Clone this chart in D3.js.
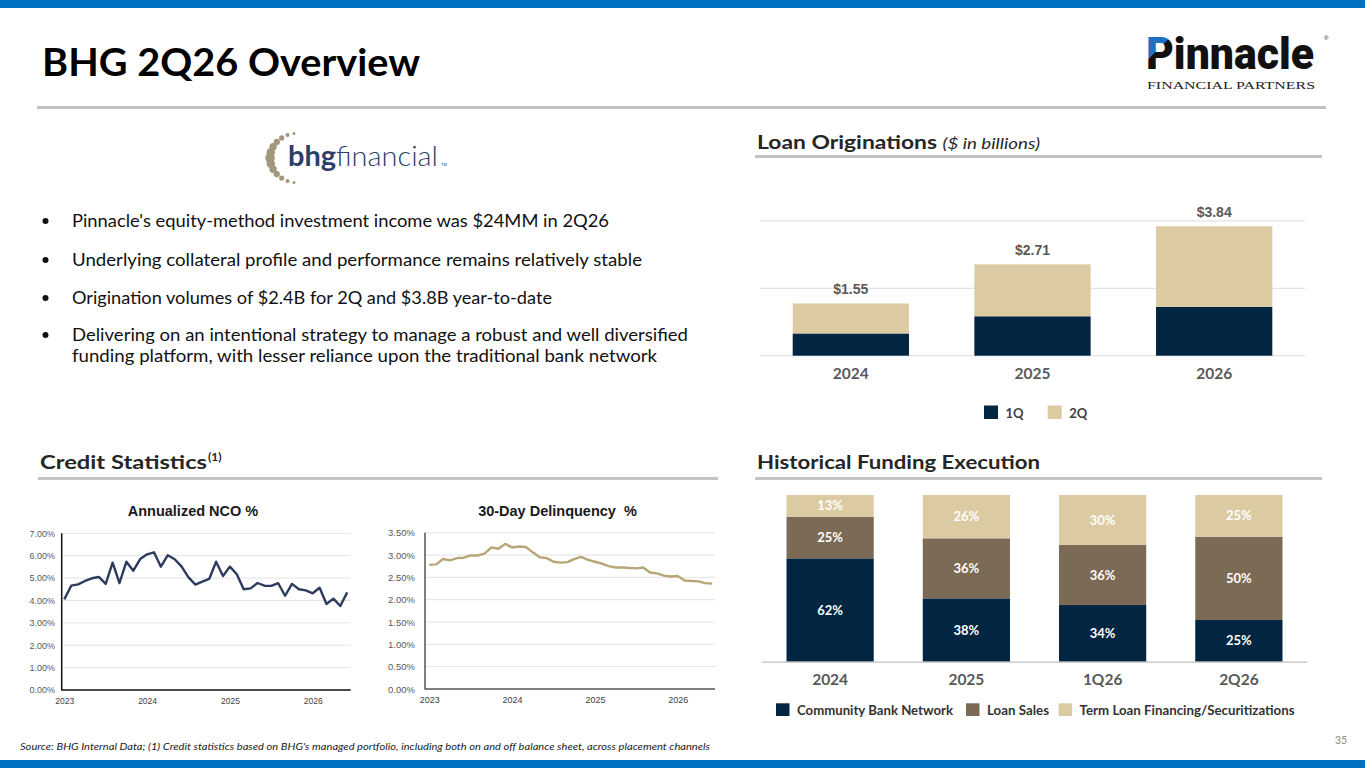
<!DOCTYPE html>
<html><head><meta charset="utf-8">
<script src="https://cdn.jsdelivr.net/npm/d3@7"></script>
<style>body{margin:0;background:#fff}svg{display:block}</style>
</head><body>
<svg id="c" width="1365" height="768"></svg>
<script>
// ---------------- DATA ----------------
const yearTicks = ["2023", "2024", "2025", "2026"];
const ncoValues = [4.05,4.66,4.72,4.87,4.99,5.05,4.74,5.69,4.78,5.73,5.33,5.85,
  6.06,6.15,5.51,6.02,5.84,5.51,5.03,4.71,4.84,4.96,5.73,5.09,
  5.51,5.17,4.50,4.54,4.78,4.66,4.65,4.77,4.21,4.74,4.50,4.45,
  4.32,4.57,3.84,4.08,3.75,4.36];
const dqValues = [2.78,2.79,2.91,2.88,2.93,2.94,2.99,2.99,3.03,3.17,3.14,3.25,
  3.17,3.19,3.18,3.06,2.95,2.93,2.85,2.83,2.84,2.91,2.96,2.89,
  2.85,2.81,2.75,2.72,2.72,2.71,2.70,2.72,2.61,2.59,2.54,2.52,
  2.53,2.43,2.42,2.41,2.37,2.36];
const ncoTicks = [0,1,2,3,4,5,6,7];
const dqTicks = [0,0.5,1,1.5,2,2.5,3,3.5];

const origYears = ["2024", "2025", "2026"];
const orig1Q = [0.66, 1.17, 1.45];
const orig2Q = [0.89, 1.54, 2.39];
const origLegend = ["1Q", "2Q"];

const fundCats = ["2024", "2025", "1Q26", "2Q26"];
const fundCommunity = [62, 38, 34, 25];
const fundLoanSales = [25, 36, 36, 50];
const fundTermLoan = [13, 26, 30, 25];
const fundLegend = ["Community Bank Network", "Loan Sales", "Term Loan Financing/Securitizations"];

const bullets = [
  ["Pinnacle's equity-method investment income was $24MM in 2Q26"],
  ["Underlying collateral profile and performance remains relatively stable"],
  ["Origination volumes of $2.4B for 2Q and $3.8B year-to-date"],
  ["Delivering on an intentional strategy to manage a robust and well diversified",
   "funding platform, with lesser reliance upon the traditional bank network"]
];

// ---------------- STYLE ----------------
const NAVY = "#022641", BROWN = "#7b6a56", TAN = "#dccba2";
const SANS = "Lato, 'Open Sans', sans-serif";
const ARIAL = "'Liberation Sans', Arial, sans-serif";
const svg = d3.select("#c");

function fit(sel, w) {
  sel.each(function () {
    const L = this.getComputedTextLength();
    if (Math.abs(L - w) > 1) d3.select(this).attr("textLength", w).attr("lengthAdjust", "spacingAndGlyphs");
  });
  return sel;
}

// page chrome
svg.append("rect").attr("x",0).attr("y",0).attr("width",1365).attr("height",8).attr("fill","#0070c0");
svg.append("rect").attr("x",0).attr("y",760).attr("width",1365).attr("height",8).attr("fill","#0070c0");
svg.append("text").attr("x",42).attr("y",76).attr("font-family",SANS).attr("font-weight",700)
  .attr("font-size",38).attr("fill","#000").text("BHG 2Q26 Overview").call(fit,378);
svg.append("rect").attr("x",37).attr("y",106).attr("width",1289).attr("height",3).attr("fill","#c3c3c3");

// Pinnacle logo
const defs = svg.append("defs");
const grad = defs.append("linearGradient").attr("id","pgrad").attr("gradientUnits","userSpaceOnUse")
  .attr("x1",1146).attr("y1",30).attr("x2",1180).attr("y2",64);
grad.append("stop").attr("offset",0.47).attr("stop-color","#1a72c0");
grad.append("stop").attr("offset",0.47).attr("stop-color","#111");
svg.append("text").attr("x",1146).attr("y",68.5).attr("font-family","Roboto, Lato, sans-serif")
  .attr("font-weight",900).attr("font-size",45).attr("fill","url(#pgrad)").text("Pinnacle").call(fit,168);
svg.append("text").attr("x",1324).attr("y",40).attr("font-family",ARIAL).attr("font-size",6).attr("fill","#111").text("®");
svg.append("text").attr("x",1147).attr("y",88.5).attr("font-family","'Liberation Serif', 'DejaVu Serif', serif")
  .attr("font-size",9.5).attr("fill","#222").text("FINANCIAL PARTNERS").call(fit,168);

// bhg financial logo
const dotG = svg.append("g");
for (let k = 0; k <= 12; k++) {
  const a = (100 + k * 160 / 12) * Math.PI / 180;
  const r = 4.8 - Math.abs(k - 6) * 0.55;
  dotG.append("circle").attr("cx", 299 + 29 * Math.cos(a)).attr("cy", 158 - 25 * Math.sin(a))
    .attr("r", Math.max(r, 1.2)).attr("fill", "#a3977b");
}
svg.append("text").attr("x",288).attr("y",166).attr("font-family",SANS).attr("font-size",28)
  .attr("fill","#2b3f68").call(t=>{
    t.append("tspan").attr("font-weight",700).text("bhg");
    t.append("tspan").attr("font-weight",300).text("financial");
  }).call(fit,150);
svg.append("text").attr("x",441).attr("y",166).attr("font-family",ARIAL).attr("font-size",4).attr("fill","#2b3f68").text("TM");

// bullets
const bulletY = [227, 266, 304, 341];
const lineW = [[537],[570],[480],[616,585]];
bullets.forEach((lines, i) => {
  svg.append("circle").attr("cx",45.5).attr("cy",bulletY[i]-6).attr("r",3).attr("fill","#111");
  lines.forEach((ln, j) => {
    svg.append("text").attr("x",72).attr("y",bulletY[i] + j*21).attr("font-family",SANS)
      .attr("font-size",17.5).attr("fill","#111").text(ln).call(fit, lineW[i][j]);
  });
});

// section headers
function header(x, y, w, lineX2, parts, lineY){
  const t = svg.append("text").attr("x",x).attr("y",y).attr("font-family",SANS).attr("font-size",19.5).attr("fill","#262626");
  parts(t);
  t.call(fit, w);
  svg.append("rect").attr("x",x-2).attr("y",lineY).attr("width",lineX2-x+2).attr("height",3).attr("fill","#c3c3c3");
}
header(757,149,283,1322,t=>{
  t.append("tspan").attr("font-weight",700).text("Loan Originations ");
  t.append("tspan").attr("font-style","italic").attr("font-size",16).text("($ in billions)");
},155);
header(40,469,167,718,t=>{ t.append("tspan").attr("font-weight",700).text("Credit Statistics"); },477);
svg.append("text").attr("x",208).attr("y",461).attr("font-family",SANS).attr("font-weight",700)
  .attr("font-size",12).attr("fill","#262626").text("(1)");
header(757,469,283,1322,t=>{ t.append("tspan").attr("font-weight",700).text("Historical Funding Execution"); },477);

// ---------------- LINE CHARTS ----------------
function lineChart(o){
  const g = svg.append("g");
  const x = d3.scaleLinear().domain([0, o.values.length-1]).range(o.xr);
  const y = d3.scaleLinear().domain([0, o.ymax]).range(o.yr);
  g.append("g").selectAll("line").data(o.ticks.slice(1)).join("line")
    .attr("x1",o.axisX).attr("x2",o.axisX2).attr("y1",d=>y(d)).attr("y2",d=>y(d))
    .attr("stroke","#e3e3e3").attr("stroke-width",1);
  const ya = g.append("g").attr("transform",`translate(${o.labelX},0)`)
    .call(d3.axisLeft(y).tickValues(o.ticks).tickSize(0).tickPadding(0).tickFormat(d=>d3.format(".2%")(d/100)));
  ya.select(".domain").remove();
  ya.selectAll("text").attr("font-family",ARIAL).attr("font-size",o.fs).attr("fill","#595959");
  const xa = g.append("g").attr("transform",`translate(0,${o.yr[0]+8})`)
    .call(d3.axisBottom(x).tickValues([0,12,24,36]).tickSize(0).tickPadding(0).tickFormat((d,i)=>yearTicks[i]));
  xa.select(".domain").remove();
  xa.selectAll("text").attr("font-family",ARIAL).attr("font-size",o.fs-0.5).attr("fill","#404040");
  g.append("line").attr("x1",o.axisX).attr("x2",o.axisX).attr("y1",o.yr[1]).attr("y2",o.yr[0]+0.5)
    .attr("stroke",o.axisC).attr("stroke-width",1.5);
  g.append("line").attr("x1",o.axisX).attr("x2",o.axisX2).attr("y1",o.yr[0]).attr("y2",o.yr[0])
    .attr("stroke",o.axisC).attr("stroke-width",1.5);
  g.append("path").datum(o.values).attr("fill","none").attr("stroke",o.color).attr("stroke-width",2.4)
    .attr("stroke-linejoin","round").attr("d", d3.line().x((d,i)=>x(i)).y(d=>y(d)));
  g.append("text").attr("x",o.titleX).attr("y",516).attr("text-anchor","middle").attr("font-family",ARIAL)
    .attr("font-weight",700).attr("font-size",14.5).attr("fill","#1a1a1a").style("white-space","pre").text(o.title);
}
lineChart({values:ncoValues, ticks:ncoTicks, ymax:7, xr:[64.3,347.2], yr:[690,533.3], axisX:61.7, axisX2:350.7,
  labelX:55, fs:9, color:"#2d3c5e", axisC:"#111", title:"Annualized NCO %", titleX:193});
lineChart({values:dqValues, ticks:dqTicks, ymax:3.5, xr:[429.3,712.2], yr:[689,532.7], axisX:425, axisX2:715,
  labelX:415, fs:9.5, color:"#b8a676", axisC:"#555", title:"30-Day Delinquency  %", titleX:557.5});

// ---------------- LOAN ORIGINATIONS ----------------
{
  const table = origYears.map((yr,i)=>({year:yr, q1:orig1Q[i], q2:orig2Q[i]}));
  const x = d3.scaleBand().domain(origYears).range([760,1305]).paddingInner(0.36).paddingOuter(0.18);
  const y = d3.scaleLinear().domain([0,4]).range([355.7,220.9]);
  const g = svg.append("g");
  g.selectAll("line.grid").data([0,2,4]).join("line").attr("x1",760).attr("x2",1305)
    .attr("y1",d=>y(d)).attr("y2",d=>y(d)).attr("stroke","#e3e3e3").attr("stroke-width",1.2);
  const stack = d3.stack().keys(["q1","q2"])(table);
  const cols = [NAVY, TAN];
  stack.forEach((s,si)=>{
    g.selectAll(null).data(s).join("rect").attr("x",d=>x(d.data.year)).attr("width",x.bandwidth())
      .attr("y",d=>y(d[1])).attr("height",d=>y(d[0])-y(d[1])).attr("fill",cols[si]);
  });
  g.selectAll("text.tot").data(table).join("text").attr("x",d=>x(d.year)+x.bandwidth()/2)
    .attr("y",d=>y(d.q1+d.q2)-9.5).attr("text-anchor","middle").attr("font-family",ARIAL).attr("font-weight",700)
    .attr("font-size",14).attr("fill","#595959").text(d=>"$"+(d.q1+d.q2).toFixed(2));
  const xa = g.append("g").attr("transform","translate(0,368)").call(d3.axisBottom(x).tickSize(0).tickPadding(0));
  xa.select(".domain").remove();
  xa.selectAll("text").attr("font-family",SANS).attr("font-weight",700).attr("font-size",15.5).attr("fill","#595959");
  const lx = [984, 1047.7];
  origLegend.forEach((k,i)=>{
    g.append("rect").attr("x",lx[i]).attr("y",405.5).attr("width",14).attr("height",13.5).attr("fill",cols[i]);
    g.append("text").attr("x",lx[i]+21.5).attr("y",417.5).attr("font-family",SANS).attr("font-weight",700)
      .attr("font-size",13).attr("fill","#404040").text(k);
  });
}

// ---------------- FUNDING ----------------
{
  const table = fundCats.map((c,i)=>({cat:c, community:fundCommunity[i], loanSales:fundLoanSales[i], termLoan:fundTermLoan[i]}));
  const x = d3.scaleBand().domain(fundCats).range([762,1307]).paddingInner(0.36).paddingOuter(0.18);
  const y = d3.scaleLinear().domain([0,100]).range([661.7,495]);
  const g = svg.append("g");
  const keys = ["community","loanSales","termLoan"];
  const cols = [NAVY, BROWN, TAN];
  const stack = d3.stack().keys(keys)(table);
  stack.forEach((s,si)=>{
    g.selectAll(null).data(s).join("rect").attr("x",d=>x(d.data.cat)).attr("width",x.bandwidth())
      .attr("y",d=>y(d[1])).attr("height",d=>y(d[0])-y(d[1])).attr("fill",cols[si]);
    g.selectAll(null).data(s).join("text").attr("x",d=>x(d.data.cat)+x.bandwidth()/2)
      .attr("y",d=>(y(d[0])+y(d[1]))/2+4.5).attr("text-anchor","middle").attr("font-family",SANS)
      .attr("font-weight",700).attr("font-size",13).attr("fill","#fff").text(d=>(d[1]-d[0])+"%");
  });
  g.append("line").attr("x1",762).attr("x2",1307).attr("y1",662.2).attr("y2",662.2).attr("stroke","#bfbfbf").attr("stroke-width",1.2);
  const xa = g.append("g").attr("transform","translate(0,674)").call(d3.axisBottom(x).tickSize(0).tickPadding(0));
  xa.select(".domain").remove();
  xa.selectAll("text").attr("font-family",SANS).attr("font-weight",700).attr("font-size",15.5).attr("fill","#595959");
  const lx = [776, 966, 1058.6], lw = [156, 62, 215];
  fundLegend.forEach((k,i)=>{
    g.append("rect").attr("x",lx[i]).attr("y",703.3).attr("width",13.5).attr("height",12.7).attr("fill",cols[i]);
    g.append("text").attr("x",lx[i]+21).attr("y",714.5).attr("font-family",SANS).attr("font-weight",700)
      .attr("font-size",13).attr("fill","#333").text(k).call(fit, lw[i]);
  });
}

// footer
svg.append("text").attr("x",20).attr("y",750).attr("font-family",SANS).attr("font-style","italic")
  .attr("font-size",10).attr("fill","#222")
  .text("Source: BHG Internal Data; (1) Credit statistics based on BHG's managed portfolio, including both on and off balance sheet, across placement channels")
  .call(fit,690);
svg.append("text").attr("x",1341).attr("y",743.5).attr("text-anchor","middle").attr("font-family",SANS)
  .attr("font-size",10.5).attr("fill","#8c8c8c").text("35");
</script>
</body></html>
